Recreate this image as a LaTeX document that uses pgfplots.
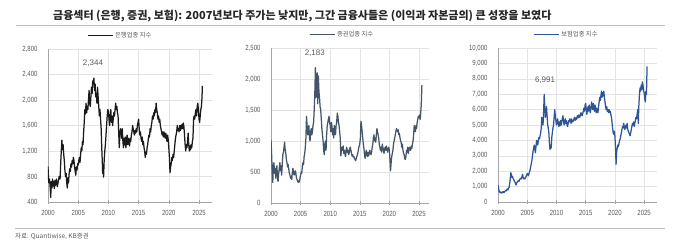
\documentclass[border=0pt]{standalone}
\usepackage{fontspec}
\setmainfont{Liberation Sans}
\newfontfamily\narrow[FakeStretch=0.8]{Liberation Sans}
\newfontfamily\cjk{Noto Sans CJK KR}
\usepackage{pgfplots}
\pgfplotsset{compat=1.18}
\usepackage{pgfplotstable}
\definecolor{tickgray}{HTML}{595959}
\definecolor{gridgray}{HTML}{E3E3E3}
\definecolor{axgray}{HTML}{A6A6A6}
\definecolor{rulegray}{HTML}{BFBFBF}
\definecolor{bankc}{HTML}{1A1A1A}
\definecolor{secc}{HTML}{44546A}
\definecolor{insc}{HTML}{2F5597}
\definecolor{titlec}{HTML}{262626}
\newcommand{\tickfont}{\narrow\fontsize{7.5}{8}\selectfont}
\newcommand{\legfont}{\cjk\fontsize{6.3}{7}\selectfont}

\pgfplotstableread{
x y
2000.00 960
2000.08 780
2000.15 700
2000.25 760
2000.35 640
2000.45 470
2000.55 720
2000.65 620
2000.75 760
2000.85 650
2000.95 720
2001.05 610
2001.15 740
2001.25 660
2001.40 760
2001.55 640
2001.70 720
2001.85 800
2002.00 760
2002.10 1000
2002.20 1200
2002.30 1370
2002.40 1220
2002.50 1300
2002.60 1150
2002.70 1050
2002.80 900
2002.90 800
2003.00 850
2003.10 700
2003.20 620
2003.30 780
2003.40 700
2003.50 850
2003.60 920
2003.70 880
2003.80 1000
2003.90 950
2004.00 1050
2004.10 1000
2004.20 1100
2004.30 1050
2004.40 950
2004.50 880
2004.60 820
2004.70 950
2004.80 900
2004.90 1000
2005.00 980
2005.10 1050
2005.20 1100
2005.30 1020
2005.40 1150
2005.50 1250
2005.60 1200
2005.70 1350
2005.80 1300
2005.90 1500
2006.00 1650
2006.10 1850
2006.20 1780
2006.30 1950
2006.40 1800
2006.50 1900
2006.60 1850
2006.70 2000
2006.80 2150
2006.90 1950
2007.00 1900
2007.10 2050
2007.20 2200
2007.30 2100
2007.40 2300
2007.50 2250
2007.60 2344
2007.70 2150
2007.80 2250
2007.90 2050
2008.00 2100
2008.10 1950
2008.20 2200
2008.30 2050
2008.40 1900
2008.50 1750
2008.60 1850
2008.70 1700
2008.80 1550
2008.90 1250
2009.00 1000
2009.05 850
2009.12 950
2009.20 790
2009.30 1050
2009.40 1200
2009.50 1300
2009.60 1450
2009.70 1600
2009.80 1750
2009.90 1850
2010.00 1820
2010.10 1700
2010.20 1600
2010.30 1750
2010.40 1850
2010.50 1650
2010.60 1750
2010.70 1600
2010.80 1700
2010.90 1800
2011.00 1750
2011.10 1850
2011.20 1950
2011.30 1850
2011.40 1900
2011.50 1800
2011.60 1750
2011.70 1500
2011.80 1250
2011.90 1450
2012.00 1550
2012.10 1500
2012.20 1400
2012.30 1550
2012.40 1350
2012.50 1250
2012.60 1400
2012.70 1300
2012.80 1420
2012.90 1250
2013.00 1380
2013.10 1450
2013.20 1300
2013.30 1400
2013.40 1350
2013.50 1280
2013.60 1400
2013.70 1350
2013.80 1450
2013.90 1500
2014.00 1600
2014.10 1550
2014.20 1500
2014.30 1450
2014.40 1520
2014.50 1480
2014.60 1550
2014.70 1500
2014.80 1600
2014.90 1650
2015.00 1700
2015.10 1550
2015.20 1450
2015.30 1500
2015.40 1400
2015.50 1350
2015.60 1420
2015.70 1300
2015.80 1350
2015.90 1250
2016.00 1200
2016.10 1100
2016.20 1180
2016.30 1150
2016.40 1250
2016.50 1300
2016.60 1380
2016.70 1450
2016.80 1420
2016.90 1550
2017.00 1500
2017.10 1600
2017.20 1650
2017.30 1750
2017.40 1700
2017.50 1800
2017.60 1750
2017.70 1850
2017.80 1800
2017.90 1950
2018.00 1850
2018.10 1800
2018.20 1700
2018.30 1750
2018.40 1650
2018.50 1700
2018.60 1600
2018.70 1550
2018.80 1500
2018.90 1450
2019.00 1500
2019.10 1420
2019.20 1500
2019.30 1450
2019.40 1400
2019.50 1480
2019.60 1420
2019.70 1350
2019.80 1450
2019.90 1380
2020.00 1250
2020.10 1100
2020.20 860
2020.30 950
2020.40 1000
2020.50 1100
2020.60 1050
2020.70 1150
2020.80 1100
2020.90 1200
2021.00 1300
2021.10 1400
2021.20 1450
2021.30 1500
2021.40 1600
2021.50 1520
2021.60 1550
2021.70 1500
2021.80 1600
2021.90 1520
2022.00 1600
2022.10 1550
2022.20 1620
2022.30 1550
2022.40 1640
2022.50 1580
2022.60 1450
2022.70 1300
2022.80 1200
2022.90 1300
2023.00 1250
2023.10 1350
2023.20 1480
2023.30 1300
2023.40 1200
2023.50 1280
2023.60 1220
2023.70 1300
2023.80 1250
2023.90 1350
2024.00 1400
2024.10 1700
2024.20 1750
2024.30 1700
2024.40 1800
2024.50 1850
2024.60 1750
2024.70 1900
2024.80 1950
2024.90 1850
2025.00 1700
2025.10 1650
2025.20 1750
2025.30 1850
2025.40 1900
2025.50 2050
2025.55 2220
}\bank

\pgfplotstableread{
x y
2000.0 1020
2000.1 800
2000.2 520
2000.3 330
2000.4 600
2000.5 650
2000.6 480
2000.7 560
2000.8 400
2000.9 520
2001.0 600
2001.1 380
2001.2 350
2001.3 480
2001.4 560
2001.5 650
2001.6 520
2001.7 600
2001.8 450
2001.9 620
2002.0 780
2002.1 820
2002.2 900
2002.3 980
2002.4 850
2002.5 800
2002.6 700
2002.7 650
2002.8 580
2002.9 620
2003.0 550
2003.1 480
2003.2 450
2003.3 400
2003.4 430
2003.5 380
2003.6 480
2003.7 560
2003.8 500
2003.9 450
2004.0 470
2004.1 520
2004.2 480
2004.3 400
2004.4 380
2004.5 350
2004.6 330
2004.7 360
2004.8 340
2004.9 400
2005.0 450
2005.1 500
2005.2 480
2005.3 600
2005.4 650
2005.5 620
2005.6 750
2005.7 800
2005.8 900
2005.9 1050
2006.0 1400
2006.1 1250
2006.2 1100
2006.3 1200
2006.4 1250
2006.5 1050
2006.6 1000
2006.7 1150
2006.8 1200
2006.9 1100
2007.0 1150
2007.1 1250
2007.2 1300
2007.3 1500
2007.4 1750
2007.5 2183
2007.6 1700
2007.7 1950
2007.8 2100
2007.9 1600
2008.0 2050
2008.1 1800
2008.2 1700
2008.3 1550
2008.4 1500
2008.5 1350
2008.6 1200
2008.7 1100
2008.8 1000
2008.9 850
2009.0 780
2009.1 950
2009.2 1000
2009.3 850
2009.4 1100
2009.5 1250
2009.6 1300
2009.7 1350
2009.8 1400
2009.9 1300
2010.0 1250
2010.1 1150
2010.2 1300
2010.3 1250
2010.4 1100
2010.5 1200
2010.6 1050
2010.7 1250
2010.8 1150
2010.9 1100
2011.0 1250
2011.1 1300
2011.2 1450
2011.3 1400
2011.4 1300
2011.5 1250
2011.6 1150
2011.7 1050
2011.8 760
2011.9 850
2012.0 900
2012.1 850
2012.2 920
2012.3 800
2012.4 850
2012.5 780
2012.6 750
2012.7 850
2012.8 900
2012.9 820
2013.0 850
2013.1 780
2013.2 800
2013.3 880
2013.4 900
2013.5 850
2013.6 800
2013.7 760
2013.8 780
2013.9 740
2014.0 750
2014.1 720
2014.2 700
2014.3 680
2014.4 720
2014.5 750
2014.6 780
2014.7 820
2014.8 880
2014.9 920
2015.0 950
2015.1 1050
2015.2 1320
2015.3 1250
2015.4 1150
2015.5 1050
2015.6 950
2015.7 880
2015.8 780
2015.9 720
2016.0 800
2016.1 850
2016.2 780
2016.3 750
2016.4 820
2016.5 760
2016.6 800
2016.7 850
2016.8 800
2016.9 780
2017.0 820
2017.1 900
2017.2 950
2017.3 1050
2017.4 1100
2017.5 1000
2017.6 1050
2017.7 980
2017.8 1100
2017.9 1200
2018.0 1150
2018.1 1100
2018.2 1050
2018.3 950
2018.4 900
2018.5 850
2018.6 900
2018.7 820
2018.8 950
2018.9 900
2019.0 850
2019.1 800
2019.2 880
2019.3 900
2019.4 850
2019.5 920
2019.6 880
2019.7 820
2019.8 870
2019.9 900
2020.0 850
2020.1 700
2020.2 520
2020.3 650
2020.4 750
2020.5 800
2020.6 850
2020.7 950
2020.8 1000
2020.9 1050
2021.0 1100
2021.1 1150
2021.2 1200
2021.3 1180
2021.4 1150
2021.5 1180
2021.6 1100
2021.7 1120
2021.8 1050
2021.9 1000
2022.0 980
2022.1 900
2022.2 950
2022.3 850
2022.4 800
2022.5 780
2022.6 720
2022.7 700
2022.8 750
2022.9 850
2023.0 820
2023.1 900
2023.2 800
2023.3 850
2023.4 900
2023.5 880
2023.6 850
2023.7 920
2023.8 880
2023.9 950
2024.0 1000
2024.1 1100
2024.2 1250
2024.3 1200
2024.4 1150
2024.5 1250
2024.6 1200
2024.7 1300
2024.8 1350
2024.9 1400
2025.0 1380
2025.1 1420
2025.2 1350
2025.3 1450
2025.4 1600
2025.5 1900
}\secs

\pgfplotstableread{
x y
2000.0 1100
2000.1 900
2000.2 650
2000.3 700
2000.4 600
2000.5 620
2000.6 580
2000.7 650
2000.8 620
2000.9 680
2001.0 600
2001.1 650
2001.2 700
2001.3 750
2001.4 720
2001.5 800
2001.6 850
2001.7 780
2001.8 900
2001.9 950
2002.0 1200
2002.1 1500
2002.2 1900
2002.3 1750
2002.4 1600
2002.5 1650
2002.6 1500
2002.7 1450
2002.8 1350
2002.9 1300
2003.0 1200
2003.1 1100
2003.2 1250
2003.3 1300
2003.4 1350
2003.5 1400
2003.6 1350
2003.7 1450
2003.8 1500
2003.9 1550
2004.0 1500
2004.1 1650
2004.2 1800
2004.3 1600
2004.4 1500
2004.5 1550
2004.6 1500
2004.7 1600
2004.8 1650
2004.9 1750
2005.0 1850
2005.1 1800
2005.2 1700
2005.3 1850
2005.4 1950
2005.5 2100
2005.6 2300
2005.7 2500
2005.8 2700
2005.9 3000
2006.0 3300
2006.1 3500
2006.2 3700
2006.3 3400
2006.4 3200
2006.5 3600
2006.6 4000
2006.7 3800
2006.8 3700
2006.9 4000
2007.0 4200
2007.1 4100
2007.2 4300
2007.3 4500
2007.4 4800
2007.5 5500
2007.6 5200
2007.7 5000
2007.8 5800
2007.9 6991
2008.0 6200
2008.1 5500
2008.2 5800
2008.3 6200
2008.4 5600
2008.5 5000
2008.6 4800
2008.7 4500
2008.8 3800
2008.9 3400
2009.0 3700
2009.1 3500
2009.2 4200
2009.3 4500
2009.4 4800
2009.5 5000
2009.6 5500
2009.7 6000
2009.8 5600
2009.9 5300
2010.0 5000
2010.1 5200
2010.2 5400
2010.3 5100
2010.4 4900
2010.5 5200
2010.6 4950
2010.7 5300
2010.8 5000
2010.9 5200
2011.0 5400
2011.1 5600
2011.2 5300
2011.3 5000
2011.4 5200
2011.5 5400
2011.6 5100
2011.7 5300
2011.8 5000
2011.9 4900
2012.0 5100
2012.1 5300
2012.2 5200
2012.3 5400
2012.4 5300
2012.5 5100
2012.6 5400
2012.7 5200
2012.8 5300
2012.9 5250
2013.0 5400
2013.1 5500
2013.2 5300
2013.3 5450
2013.4 5350
2013.5 5500
2013.6 5600
2013.7 5450
2013.8 5650
2013.9 5550
2014.0 5500
2014.1 5700
2014.2 5800
2014.3 5650
2014.4 5600
2014.5 5750
2014.6 5900
2014.7 6100
2014.8 5900
2014.9 6300
2015.0 6400
2015.1 6000
2015.2 5700
2015.3 6000
2015.4 6200
2015.5 5900
2015.6 6300
2015.7 6000
2015.8 5800
2015.9 6100
2016.0 6500
2016.1 6200
2016.2 6000
2016.3 6400
2016.4 6100
2016.5 5900
2016.6 6300
2016.7 6000
2016.8 5800
2016.9 6100
2017.0 5900
2017.1 5800
2017.2 6200
2017.3 6500
2017.4 6800
2017.5 6600
2017.6 6900
2017.7 7200
2017.8 6800
2017.9 7100
2018.0 6900
2018.1 7200
2018.2 6800
2018.3 6500
2018.4 6200
2018.5 6000
2018.6 6200
2018.7 5900
2018.8 6000
2018.9 5800
2019.0 6000
2019.1 5800
2019.2 5900
2019.3 5700
2019.4 5500
2019.5 5200
2019.6 4800
2019.7 4500
2019.8 4400
2019.9 4600
2020.0 4300
2020.1 3500
2020.2 2450
2020.3 3300
2020.4 3500
2020.5 3700
2020.6 3600
2020.7 3800
2020.8 4000
2020.9 4100
2021.0 4300
2021.1 4500
2021.2 4700
2021.3 4900
2021.4 4800
2021.5 5100
2021.6 4900
2021.7 4700
2021.8 4900
2021.9 5000
2022.0 4800
2022.1 5100
2022.2 4700
2022.3 4600
2022.4 4500
2022.5 4400
2022.6 4300
2022.7 4500
2022.8 4700
2022.9 4900
2023.0 5100
2023.1 5000
2023.2 5200
2023.3 4900
2023.4 5100
2023.5 5300
2023.6 5500
2023.7 5400
2023.8 5700
2023.9 6000
2024.0 5100
2024.1 6300
2024.2 7000
2024.3 7400
2024.4 7200
2024.5 7600
2024.6 7300
2024.7 7800
2024.8 7600
2024.9 7200
2025.0 7100
2025.1 6700
2025.2 6500
2025.3 7200
2025.4 7000
2025.5 8800
}\ins

\pgfplotsset{panel/.style={
  scale only axis,
  axis lines=left,
  axis line style={-, draw=axgray, line width=0.6pt},
  grid=major,
  major grid style={draw=gridgray, line width=0.4pt},
  xtick={2000,2005,...,2025},
  scaled y ticks=false,
  /pgf/number format/assume math mode=true,
  xticklabel style={font=\tickfont, text=tickgray, /pgf/number format/1000 sep={}, yshift=-3pt},
  yticklabel style={font=\tickfont, text=tickgray, /pgf/number format/1000 sep={,}, xshift=-5pt},
  ytick style={draw=none},
  xtick style={draw=axgray, line width=0.5pt},
  tick align=center,
  major tick length=4pt,
  legend style={draw=none, fill=none, font=\legfont, text=tickgray, inner sep=0pt, anchor=center},
  legend image code/.code={\draw[##1, line width=1.2pt] (0pt,0pt) -- (25pt,0pt);},
  every axis plot/.append style={line width=1.25pt, line join=round},
}}

\begin{document}
\begin{tikzpicture}
\useasboundingbox (0pt,0pt) rectangle (677pt,242pt);
% title and rules
\node[anchor=west, inner sep=0pt, text=titlec, font=\cjk\bfseries\fontsize{11}{13}\selectfont] at (53pt,226pt) {금융섹터 (은행, 증권, 보험): 2007년보다 주가는 낮지만, 그간 금융사들은 (이익과 자본금의) 큰 성장을 보였다};
\draw[rulegray, line width=0.8pt] (16pt,217pt) -- (665pt,217pt);
\draw[rulegray, line width=0.8pt] (15pt,14pt) -- (665pt,14pt);
\node[anchor=west, inner sep=0pt, text=tickgray, font=\cjk\fontsize{6.5}{8}\selectfont] at (15pt,6pt) {자료: Quantiwise, KB증권};

\begin{axis}[panel, at={(48pt,40pt)}, anchor=south west, width=164pt, height=153pt,
  xmin=2000, xmax=2027.15, ymin=400, ymax=2800, ytick={400,800,...,2800},
  legend style={at={(0.44,1.09)}}]
\addplot[bankc] table[x=x,y=y] {\bank};
\addlegendentry{은행업종 지수}
\node[font=\fontsize{8}{9}\selectfont, text=tickgray] at (axis cs:2007.45,2580) {2,344};
\end{axis}

\begin{axis}[panel, at={(271pt,39pt)}, anchor=south west, width=158pt, height=155pt,
  xmin=2000, xmax=2026.7, ymin=0, ymax=2500, ytick={0,500,...,2500},
  legend style={at={(0.45,1.085)}}]
\addplot[secc] table[x=x,y=y] {\secs};
\addlegendentry{증권업종 지수}
\node[font=\fontsize{8}{9}\selectfont, text=tickgray] at (axis cs:2007.4,2420) {2,183};
\end{axis}

\begin{axis}[panel, at={(498pt,40pt)}, anchor=south west, width=159pt, height=154pt,
  xmin=2000, xmax=2027.2, ymin=0, ymax=10000, ytick={0,1000,...,10000},
  legend style={at={(0.43,1.09)}}]
\addplot[insc] table[x=x,y=y] {\ins};
\addlegendentry{보험업종 지수}
\node[font=\fontsize{8}{9}\selectfont, text=tickgray] at (axis cs:2008.05,7920) {6,991};
\end{axis}
\end{tikzpicture}
\end{document}
